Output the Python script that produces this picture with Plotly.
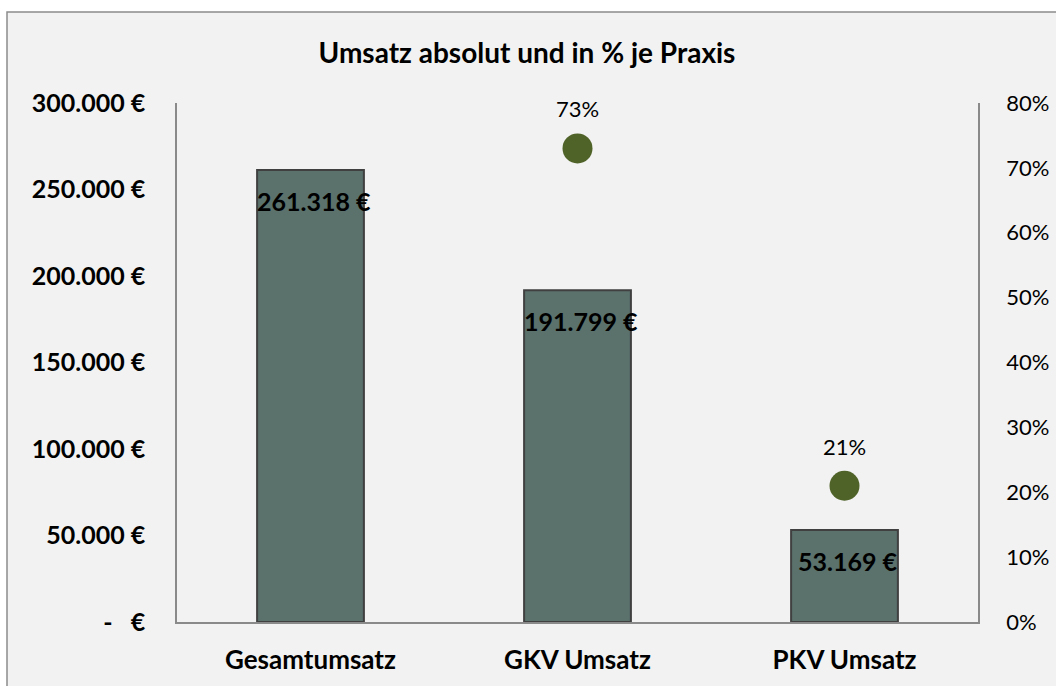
import plotly.graph_objects as go

categories = ["Gesamtumsatz", "GKV Umsatz", "PKV Umsatz"]
umsatz = [261318, 191799, 53169]
anteil_kategorien = ["GKV Umsatz", "PKV Umsatz"]
anteil = [0.73, 0.21]
left_tickvals = [0, 50000, 100000, 150000, 200000, 250000, 300000]
left_ticktext = ["-   €", "50.000 €", "100.000 €", "150.000 €", "200.000 €", "250.000 €", "300.000 €"]
right_tickvals = [0, 0.1, 0.2, 0.3, 0.4, 0.5, 0.6, 0.7, 0.8]
right_ticktext = ["0%", "10%", "20%", "30%", "40%", "50%", "60%", "70%", "80%"]

FONT = "Lato"
AXIS = "#8a8a8a"

W, H = 1056, 686
PL, PR, PT, PB = 177, 978, 103, 622  # plot area in page pixels

def fmt_eur(v):
    return f"{v:,}".replace(",", ".") + " €"

fig = go.Figure()
fig.add_trace(go.Bar(
    x=categories, y=umsatz, width=0.4,
    marker=dict(color="#5a716c", line=dict(color="#404040", width=2)),
    hoverinfo="skip", showlegend=False,
))
fig.add_trace(go.Scatter(
    x=anteil_kategorien, y=anteil, yaxis="y2", mode="markers",
    marker=dict(color="#4f6228", size=30),
    hoverinfo="skip", showlegend=False, cliponaxis=False,
))

for c, v in zip(categories, umsatz):
    fig.add_annotation(x=c, y=v, text=fmt_eur(v), showarrow=False,
                       yanchor="top", yshift=-14, xshift=3,
                       font=dict(family=FONT, size=25, color="#000000", weight="bold"))
for c, v in zip(anteil_kategorien, anteil):
    fig.add_annotation(x=c, y=v, yref="y2", text=f"{round(v*100)}%", showarrow=False,
                       yanchor="bottom", yshift=24,
                       font=dict(family=FONT, size=22, color="#000000"))

# outer chart frame
fig.add_shape(type="rect", xref="paper", yref="paper",
              x0=(7 - PL) / (PR - PL), x1=1.3, y0=-0.3, y1=(PB - 12) / (PB - PT),
              fillcolor="#f2f2f2", line=dict(color="#8c8c8c", width=1.5), layer="below")

fig.update_layout(
    width=W, height=H, autosize=False,
    margin=dict(l=PL, r=W - PR, t=PT, b=H - PB, autoexpand=False),
    paper_bgcolor="#ffffff", plot_bgcolor="rgba(0,0,0,0)",
    title=dict(text="<b>Umsatz absolut und in % je Praxis</b>", x=(527 - PL) / (PR - PL), xref="paper",
               xanchor="center", y=1 - 53 / H, yanchor="middle",
               font=dict(family=FONT, size=28, color="#000000")),
    xaxis=dict(showline=True, linecolor=AXIS, linewidth=1.5, showgrid=False, automargin=False,
               tickfont=dict(family=FONT, size=26, color="#000000", weight="bold"),
               ticklabelstandoff=14, zeroline=False),
    yaxis=dict(range=[0, 300000], tickvals=left_tickvals, ticktext=left_ticktext, automargin=False,
               showline=True, linecolor=AXIS, linewidth=1.5, showgrid=False, zeroline=False,
               tickfont=dict(family=FONT, size=25, color="#000000", weight="bold"),
               ticklabelstandoff=25),
    yaxis2=dict(range=[0, 0.8], tickvals=right_tickvals, ticktext=right_ticktext, automargin=False,
                overlaying="y", side="right", showline=True, linecolor=AXIS, linewidth=1.5,
                showgrid=False, zeroline=False,
                tickfont=dict(family=FONT, size=22, color="#000000"),
                ticklabelstandoff=22),
)

fig.write_html("out.html", config={"responsive": False, "displayModeBar": False},
               post_script="document.body.style.margin='0';document.body.style.overflow='hidden';")
